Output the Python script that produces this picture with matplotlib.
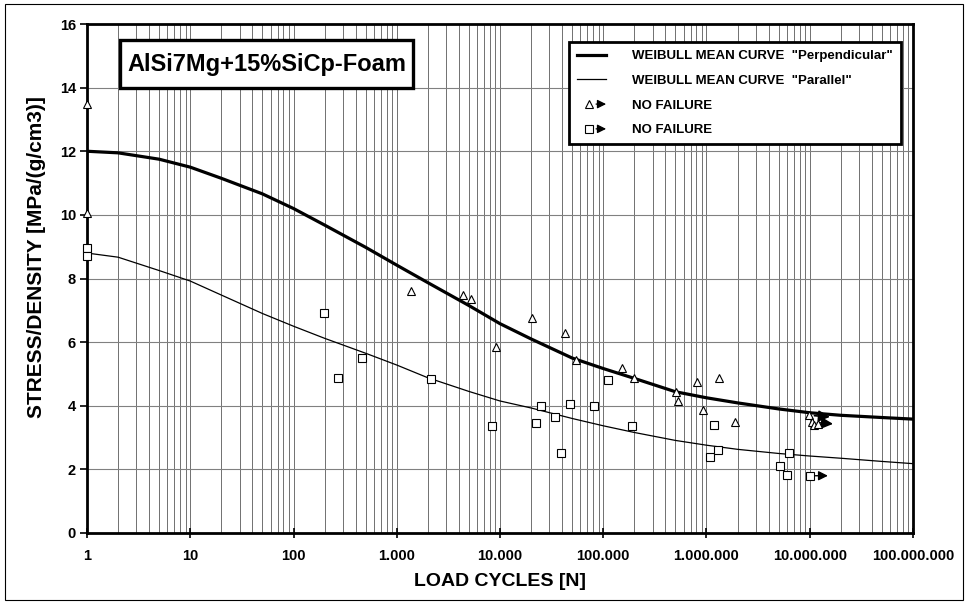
import numpy as np
import matplotlib
matplotlib.use('Agg')
import matplotlib.pyplot as plt
from matplotlib.ticker import FixedLocator, LogLocator, FuncFormatter, NullFormatter
from matplotlib.lines import Line2D
from matplotlib.patches import Rectangle, FancyArrowPatch
from matplotlib.legend_handler import HandlerBase

plt.rcParams['font.family'] = ['Liberation Sans', 'DejaVu Sans']

# Weibull mean curves
curve_n = [1, 2, 5, 10, 20, 50, 100, 200, 500, 1e3, 2e3, 5e3, 1e4, 2e4, 5e4,
           1e5, 2e5, 5e5, 1e6, 2e6, 5e6, 1e7, 2e7, 5e7, 1e8]
perp_curve = [12.0, 11.95, 11.75, 11.5, 11.15, 10.66, 10.2, 9.68, 8.98, 8.42,
              7.87, 7.15, 6.58, 6.1, 5.5, 5.17, 4.86, 4.44, 4.25, 4.09, 3.9,
              3.78, 3.70, 3.63, 3.58]
par_curve = [8.8, 8.67, 8.25, 7.92, 7.48, 6.9, 6.5, 6.12, 5.65, 5.28, 4.88,
             4.45, 4.15, 3.93, 3.6, 3.37, 3.16, 2.91, 2.76, 2.63, 2.5, 2.42,
             2.35, 2.25, 2.18]

# test points "Perpendicular" (triangles)
perp_n = [1, 1, 1374, 4370, 5250, 9130, 20400, 42600, 54500, 152000, 199000,
          505000, 525000, 808000, 935000, 1.32e6, 1.9e6]
perp_s = [13.47, 10.05, 7.62, 7.49, 7.37, 5.85, 6.77, 6.29, 5.44, 5.19, 4.87,
          4.42, 4.14, 4.74, 3.86, 4.87, 3.48]

# test points "Parallel" (squares)
par_n = [1, 1, 198, 270, 460, 2140, 8330, 22300, 25000, 34000, 39000, 47500,
         81700, 111000, 190000, 1.08e6, 1.18e6, 1.29e6, 5.1e6, 6.0e6, 6.3e6]
par_s = [8.95, 8.7, 6.92, 4.87, 5.5, 4.84, 3.35, 3.45, 3.98, 3.64, 2.50, 4.05,
         3.98, 4.81, 3.35, 2.40, 3.38, 2.62, 2.12, 1.83, 2.53]

# run-outs (no failure)
runout_perp_n = [9.8e6, 1.05e7, 1.1e7, 1.2e7]
runout_perp_s = [3.70, 3.48, 3.40, 3.42]
runout_par_n = [1.0e7]
runout_par_s = [1.80]

decades = [1, 10, 100, 1e3, 1e4, 1e5, 1e6, 1e7, 1e8]
yticks = [0, 2, 4, 6, 8, 10, 12, 14, 16]


class ArrowHandler(HandlerBase):
    def __init__(self, marker):
        super().__init__()
        self.marker = marker

    def create_artists(self, legend, orig_handle, xdescent, ydescent,
                       width, height, fontsize, trans):
        y = height / 2 - ydescent
        x0 = width * 0.42 - xdescent
        m = Line2D([x0], [y], marker=self.marker, ms=6, mfc='white',
                   mec='black', mew=0.8, ls='none', transform=trans)
        a = FancyArrowPatch((x0 + 3, y), (width * 1.1 - xdescent, y),
                            arrowstyle='-|>', mutation_scale=13, lw=0.9,
                            color='black', transform=trans)
        return [m, a]


fig = plt.figure(figsize=(9.68, 6.08), dpi=100)
ax = fig.add_axes([87 / 968, 75 / 608, 826 / 968, 509 / 608])

ax.set_xscale('log')
ax.set_xlim(1, 1e8)
ax.set_ylim(0, 16)

ax.xaxis.set_major_locator(FixedLocator(decades))
ax.xaxis.set_minor_locator(LogLocator(base=10, subs=np.arange(2, 10), numticks=200))
ax.xaxis.set_minor_formatter(NullFormatter())
ax.xaxis.set_major_formatter(FuncFormatter(lambda v, p: f'{int(round(v)):,}'.replace(',', '.')))
ax.yaxis.set_major_locator(FixedLocator(yticks))

ax.grid(True, which='major', axis='y', color='0.5', lw=0.8)
ax.grid(True, which='both', axis='x', color='0.35', lw=0.6)

l1, = ax.plot(curve_n, perp_curve, color='black', lw=2.3, zorder=3)
l2, = ax.plot(curve_n, par_curve, color='black', lw=0.9, zorder=3)

ax.plot(perp_n, perp_s, ls='none', marker='^', ms=6, mfc='white', mec='black',
        mew=0.8, zorder=4, clip_on=False)
ax.plot(par_n, par_s, ls='none', marker='s', ms=6, mfc='white', mec='black',
        mew=0.8, zorder=4, clip_on=False)

for n, s in zip(runout_perp_n[:2], runout_perp_s[:2]):
    ax.annotate('', xy=(n * 1.6, s - 0.05), xytext=(n, s),
                arrowprops=dict(arrowstyle='-|>', mutation_scale=17, lw=1.2,
                                color='black', shrinkA=4, shrinkB=0), zorder=5)
ax.plot(runout_perp_n, runout_perp_s, ls='none', marker='^', ms=6, mfc='white',
        mec='black', mew=0.8, zorder=6)
for n, s in zip(runout_par_n, runout_par_s):
    ax.annotate('', xy=(n * 1.5, s), xytext=(n, s),
                arrowprops=dict(arrowstyle='-|>', mutation_scale=14, lw=1.0,
                                color='black', shrinkA=4, shrinkB=0), zorder=5)
ax.plot(runout_par_n, runout_par_s, ls='none', marker='s', ms=6, mfc='white',
        mec='black', mew=0.8, zorder=6)

for sp in ax.spines.values():
    sp.set_linewidth(2.0)
ax.tick_params(axis='y', which='major', direction='out', length=5, width=1.2,
               labelsize=10.5, pad=3)
ax.tick_params(axis='x', which='major', direction='inout', length=7, width=1.2,
               labelsize=10.5, pad=8)
ax.tick_params(axis='x', which='minor', length=0)
for lab in ax.get_xticklabels() + ax.get_yticklabels():
    lab.set_fontweight('bold')

ax.set_xlabel('LOAD CYCLES [N]', fontsize=14, fontweight='bold', labelpad=7)
ax.set_ylabel('STRESS/DENSITY [MPa/(g/cm3)]', fontsize=15, fontweight='bold')
ax.yaxis.set_label_coords(-0.050, 0.542)

# material label box
ax.add_patch(Rectangle((0.040, 0.874), 0.355, 0.0946, transform=ax.transAxes,
                       fc='white', ec='black', lw=2.4, zorder=7))
ax.text(0.2175, 0.921, 'AlSi7Mg+15%SiCp-Foam', transform=ax.transAxes,
        fontsize=17, fontweight='bold', va='center', ha='center', zorder=8)

tri_h = Line2D([], [], marker='^')
sq_h = Line2D([], [], marker='s')
leg = ax.legend([l1, l2, tri_h, sq_h],
                ['WEIBULL MEAN CURVE  "Perpendicular"',
                 'WEIBULL MEAN CURVE  "Parallel"',
                 'NO FAILURE', 'NO FAILURE'],
                handler_map={tri_h: ArrowHandler('^'), sq_h: ArrowHandler('s')},
                loc='upper right', bbox_to_anchor=(0.9855, 0.9646),
                fancybox=False, edgecolor='black', framealpha=1,
                prop={'size': 9.5, 'weight': 'bold'}, handlelength=2.2,
                handletextpad=2.0, labelspacing=0.95, borderpad=0.6,
                borderaxespad=0)
leg.get_frame().set_linewidth(2.0)
leg.set_zorder(7)

# outer frame
fig.patches.append(Rectangle((5 / 968, 8 / 608), 958 / 968, 596 / 608,
                             transform=fig.transFigure, fill=False,
                             ec='black', lw=0.8))

fig.savefig('out.png', dpi=100)
